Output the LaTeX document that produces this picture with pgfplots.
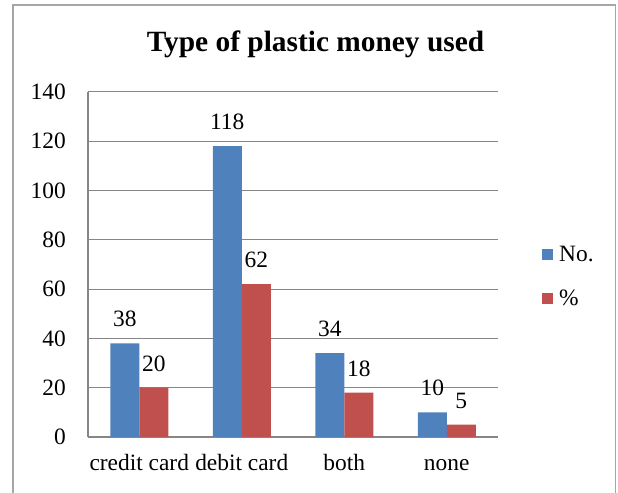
\documentclass[border=0pt]{standalone}
\usepackage{fontspec}
\setmainfont{Liberation Serif}
\usepackage{pgfplots}
\pgfplotsset{compat=1.18}
\definecolor{xlblue}{HTML}{4F81BD}
\definecolor{xlred}{HTML}{C0504D}
\definecolor{xlgrid}{HTML}{868686}
\definecolor{xlframe}{HTML}{A6A6A6}
\begin{document}
\begin{tikzpicture}
\useasboundingbox (0,0) rectangle (618bp,493bp);
\draw[xlframe, line width=1.2bp] (13bp,-2bp) -- (13bp,488bp) -- (615.5bp,488bp) -- (615.5bp,-2bp);
\node[anchor=base, font=\fontsize{29.5}{34}\selectfont\bfseries] at (315.5bp,441bp) {Type of plastic money used};
\begin{axis}[
  at={(88bp,56bp)}, anchor=south west,
  width=410bp, height=345bp, scale only axis,
  ybar=0pt, bar width=29bp,
  xmin=-0.5, xmax=3.5, ymin=0, ymax=140,
  ytick={0,20,...,140},
  xtick=data, xticklabels={credit card,debit card,both,none},
  major tick length=0pt,
  axis x line*=bottom, axis y line*=left,
  axis line style={xlgrid, line width=1.5bp, -},
  ymajorgrids, grid style={xlgrid, line width=1bp},
  /pgf/number format/assume math mode=true,
  tick label style={font=\fontsize{23.5}{28}\selectfont},
  yticklabel style={anchor=east, inner sep=0pt, xshift=-22bp},
  xticklabel style={anchor=base, inner sep=0pt, yshift=-34bp},
  nodes near coords,
  every node near coord/.append style={font=\fontsize{23.5}{28}\selectfont, anchor=south, inner sep=0pt, yshift=16bp, black},
  clip=false,
  legend style={draw=none, fill=none, at={(axis description cs:1.1,0.465)}, anchor=west,
    font=\fontsize{23.5}{28}\selectfont, nodes={inner sep=0pt}, column sep=6bp, row sep=27bp},
  legend cell align=left,
  legend image code/.code={\fill[#1] (0bp,-5.5bp) rectangle (11bp,5.5bp);},
]
\addplot[fill=xlblue, draw=none] coordinates {(0,38) (1,118) (2,34) (3,10)};
\addplot[fill=xlred, draw=none] coordinates {(0,20) (1,62) (2,18) (3,5)};
\legend{No.,\%}
\end{axis}
\end{tikzpicture}
\end{document}
